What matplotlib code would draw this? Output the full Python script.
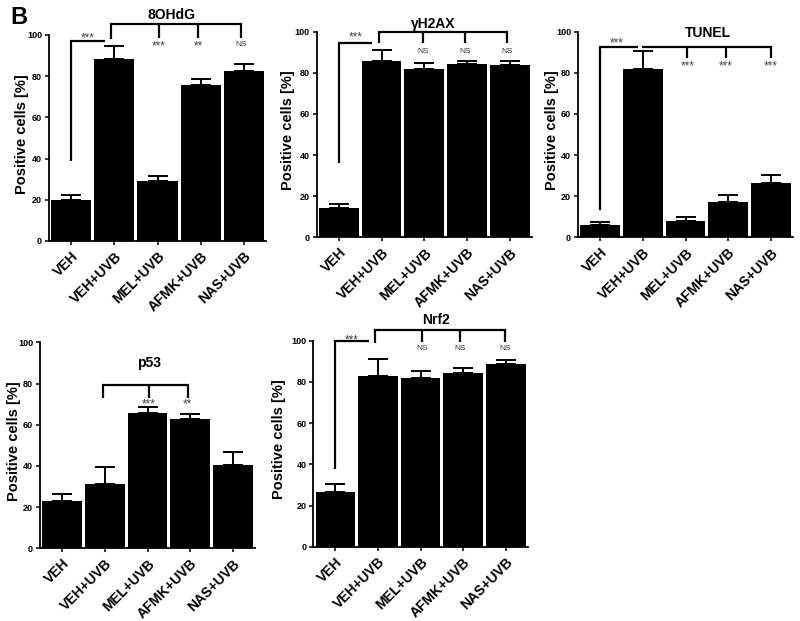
import matplotlib
matplotlib.use("Agg")
import matplotlib.pyplot as plt
import numpy as np

plt.rcParams['font.family'] = ['Liberation Sans', 'DejaVu Sans']

categories = ["VEH", "VEH+UVB", "MEL+UVB", "AFMK+UVB", "NAS+UVB"]

ohdg_vals = [19.8, 88.5, 29.3, 75.5, 82.7]
ohdg_err = [2.4, 6.2, 2.1, 3.3, 3.2]
h2ax_vals = [14.3, 85.6, 81.8, 84.3, 83.6]
h2ax_err = [1.7, 5.3, 3.0, 1.6, 2.3]
tunel_vals = [5.8, 81.8, 8.1, 17.0, 26.6]
tunel_err = [1.8, 8.6, 1.6, 3.4, 3.5]
p53_vals = [23.1, 31.1, 65.5, 62.6, 40.6]
p53_err = [3.1, 8.2, 3.1, 2.4, 6.0]
nrf2_vals = [26.7, 82.8, 82.0, 84.1, 88.5]
nrf2_err = [3.7, 8.5, 3.3, 2.8, 2.0]

yticks = [0, 20, 40, 60, 80, 100]

W, H = 800, 621
fig = plt.figure(figsize=(W / 100, H / 100), dpi=100)


def px_axes(l, r, t, b):
    return fig.add_axes([l / W, 1 - b / H, (r - l) / W, (b - t) / H])


LW = 1.6
STAR_KW = dict(ha='center', va='center', fontsize=8.5, color='#444444')
NS_KW = dict(ha='center', va='center', fontsize=6, color='#333333')


def panel(ax, vals, errs, title, title_xy, label_x):
    x = np.arange(len(categories))
    ax.bar(x, vals, width=0.93, color='black', zorder=2)
    ax.errorbar(x, vals, yerr=[np.zeros(len(errs)), errs], fmt='none',
                ecolor='black', elinewidth=1.4, capsize=7, capthick=1.4, zorder=3)
    ax.set_xlim(-0.52, 4.52)
    ax.set_ylim(0, 100)
    ax.set_yticks(yticks)
    ax.set_yticklabels([str(v) for v in yticks], fontsize=6.5, fontweight='bold')
    ax.set_xticks(x)
    ax.set_xticklabels(categories, rotation=45, ha='right', rotation_mode='anchor',
                       fontsize=10, fontweight='bold')
    for s in ['top', 'right']:
        ax.spines[s].set_visible(False)
    for s in ['left', 'bottom']:
        ax.spines[s].set_linewidth(1.3)
    ax.tick_params(axis='both', length=3, width=1.1, pad=2)
    ax.tick_params(axis='x', pad=3)
    ax.set_ylabel("Positive cells [%]", fontsize=10.5, fontweight='bold')
    ax.yaxis.set_label_coords(label_x, 0.52)
    ax.text(title_xy[0], title_xy[1], title, ha='center', va='center',
            fontsize=10, fontweight='bold', clip_on=False)


def line(ax, xs, ys):
    ax.plot(xs, ys, color='black', lw=LW, clip_on=False, zorder=4,
            solid_capstyle='butt', solid_joinstyle='miter')


def mark(ax, x, y, t):
    kw = NS_KW if t == "NS" else STAR_KW
    yy = y if t == "NS" else y - 1.0
    ax.text(x, yy, t, **kw)


# Panel 1: 8OHdG
ax1 = px_axes(49, 266, 35, 241)
panel(ax1, ohdg_vals, ohdg_err, "8OHdG", (2.33, 109.7), -0.09)
line(ax1, [0, 0, 0.79], [39, 97.2, 97.2])
mark(ax1, 0.39, 99.4, "***")
line(ax1, [0.92, 0.92, 3.94, 3.94], [97.9, 105.3, 105.3, 98.4])
line(ax1, [2.03, 2.03], [105.3, 98.4])
line(ax1, [2.95, 2.95], [105.3, 98.4])
for xx, t in [(2.03, "***"), (2.95, "**"), (3.94, "NS")]:
    mark(ax1, xx, 95.3, t)

# Panel 2: gammaH2AX
ax2 = px_axes(316.7, 532, 31.7, 237.3)
panel(ax2, h2ax_vals, h2ax_err, "\u03b3H2AX", (2.2, 103.9), -0.10)
line(ax2, [0, 0, 0.78], [36.3, 94.3, 94.3])
mark(ax2, 0.39, 98.2, "***")
line(ax2, [0.93, 0.93, 3.93, 3.93], [94.3, 99.7, 99.7, 94.3])
line(ax2, [1.98, 1.98], [99.7, 94.3])
line(ax2, [2.96, 2.96], [99.7, 94.3])
for xx in [1.98, 2.96, 3.93]:
    mark(ax2, xx, 90.3, "NS")

# Panel 3: TUNEL
ax3 = px_axes(578, 793, 31.7, 237.3)
panel(ax3, tunel_vals, tunel_err, "TUNEL", (2.53, 99.2), -0.09)
line(ax3, [0, 0, 0.88], [13.3, 92.7, 92.7])
mark(ax3, 0.39, 95.3, "***")
line(ax3, [0.98, 4.0, 4.0], [92.7, 92.7, 87.0])
line(ax3, [2.04, 2.04], [92.7, 87.0])
line(ax3, [2.94, 2.94], [92.7, 87.0])
for xx in [2.04, 2.94, 4.0]:
    mark(ax3, xx, 84.0, "***")

# Panel 4: p53
ax4 = px_axes(40, 255, 342.3, 548.3)
panel(ax4, p53_vals, p53_err, "p53", (2.03, 89.8), -0.09)
line(ax4, [0.95, 0.95, 2.94, 2.94], [73.2, 79.3, 79.3, 73.2])
line(ax4, [2.03, 2.03], [79.3, 73.2])
mark(ax4, 2.03, 70.8, "***")
mark(ax4, 2.94, 70.8, "**")

# Panel 5: Nrf2
ax5 = px_axes(313.3, 528, 340.7, 546.7)
panel(ax5, nrf2_vals, nrf2_err, "Nrf2", (2.37, 110.0), -0.125)
line(ax5, [0, 0, 0.79], [37.6, 99.9, 99.9])
mark(ax5, 0.38, 101.2, "***")
line(ax5, [0.94, 0.94, 3.97, 3.97], [99.0, 105.2, 105.2, 99.5])
line(ax5, [2.03, 2.03], [105.2, 99.5])
line(ax5, [2.93, 2.93], [105.2, 99.5])
for xx in [2.03, 2.93, 3.97]:
    mark(ax5, xx, 96.3, "NS")

fig.text(10 / W, 1 - 18 / H, "B", fontsize=17, fontweight='bold', ha='left', va='center')

fig.savefig("out.png", dpi=100)
